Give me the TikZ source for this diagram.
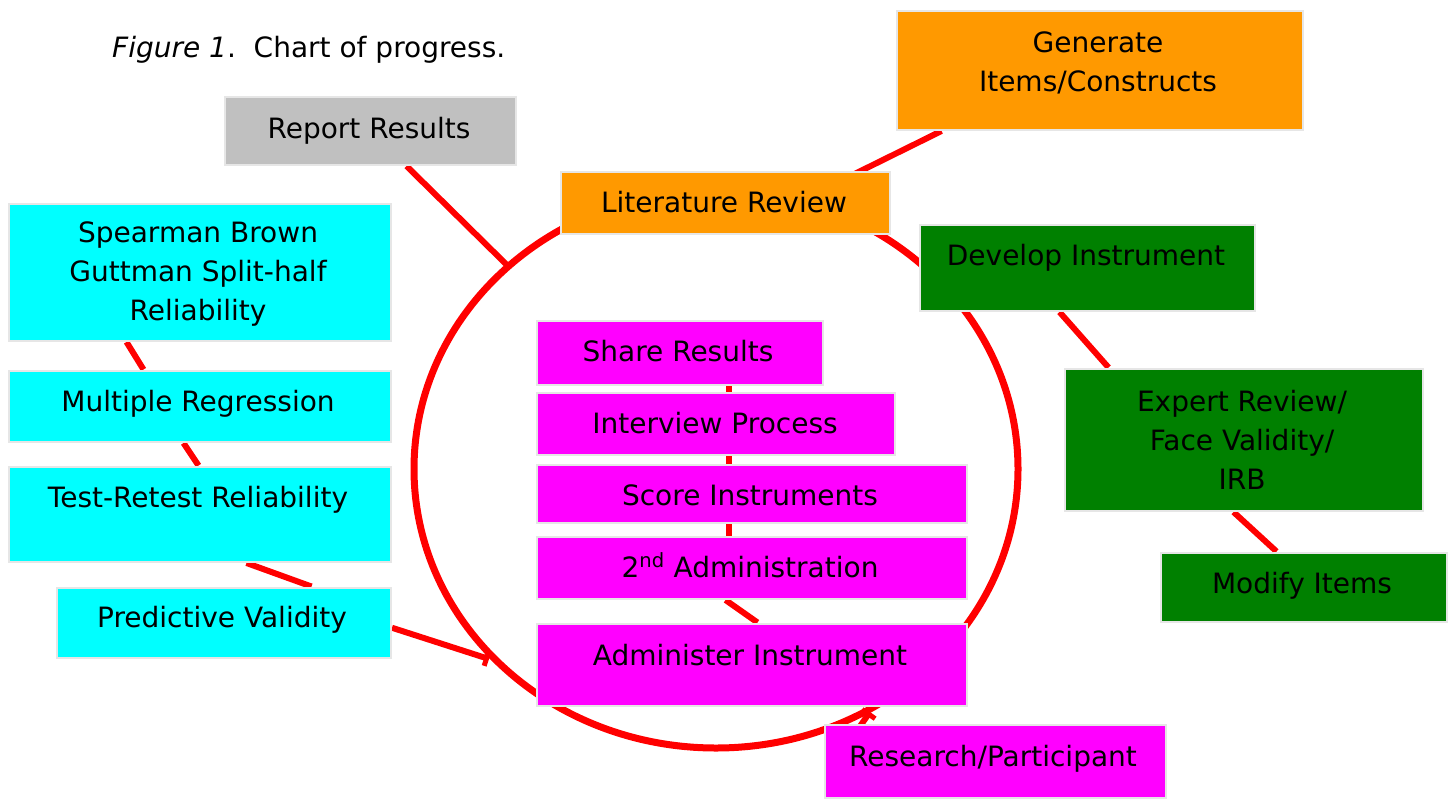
\documentclass[tikz,border=0pt]{standalone}
\usepackage{fontspec}
\setmainfont{DejaVu Sans}
\usetikzlibrary{arrows.meta,calc}
\definecolor{cOrange}{HTML}{FF9900}
\definecolor{cGreen}{HTML}{008000}
\definecolor{cCyan}{HTML}{00FFFF}
\definecolor{cMag}{HTML}{FF00FF}
\definecolor{cGray}{HTML}{C0C0C0}
\definecolor{cRed}{HTML}{FF0000}
\definecolor{cBorder}{HTML}{E6E6E6}
\newcommand{\bx}[6]{\node[box,fill=#2,minimum width={#5-#3-3},minimum height={#6-#4-3},anchor=north west] (#1) at (#3+1.5,#4+1.5) {};}
\begin{document}
\begin{tikzpicture}[x=1pt,y=-1pt,
  box/.style={draw=cBorder,line width=2.5pt,inner sep=0pt,rectangle},
  txt/.style={font=\fontsize{28}{39}\selectfont,inner sep=0pt,align=center},
  conn/.style={draw=cRed,line width=6pt},
  tick/.style={conn,-{Bar[width=16pt,line width=5pt]}},
  ring/.style={draw=cRed,line width=7pt}]
\useasboundingbox (0,0) rectangle (1450,798);
% ring and connection points
\draw[ring] (716,469) ellipse [x radius=302pt, y radius=279pt];
\coordinate (cTL) at (510,268);
\coordinate (cBL) at (489,659);
\coordinate (cBR) at (870,712);
% boxes
\bx{report}{cGray}{222}{94}{516}{165}
\bx{generate}{cOrange}{894}{8}{1303}{130}
\bx{lit}{cOrange}{558}{169}{890}{234}
\bx{develop}{cGreen}{917}{222}{1255}{311}
\bx{expert}{cGreen}{1062}{366}{1423}{511}
\bx{modify}{cGreen}{1158}{550}{1447}{622}
\bx{spear}{cCyan}{6}{201}{391}{341}
\bx{multreg}{cCyan}{6}{368}{391}{442}
\bx{retest}{cCyan}{6}{464}{391}{562}
\bx{predict}{cCyan}{54}{585}{391}{658}
\bx{share}{cMag}{534}{318}{823}{385}
\bx{interview}{cMag}{534}{390}{895}{455}
\bx{score}{cMag}{534}{462}{967}{523}
\bx{second}{cMag}{534}{534}{967}{599}
\bx{admin}{cMag}{534}{621}{967}{706}
\bx{research}{cMag}{822}{722}{1166}{798}
% connectors (behind boxes)
\pgfdeclarelayer{bg}\pgfsetlayers{bg,main}
\begin{pgfonlayer}{bg}
\draw[tick] ([xshift=183pt]report.south west) -- (cTL);
\draw[conn] ([xshift=46pt]generate.south west) -- ([xshift=292pt,yshift=-5pt]lit.north west);
\draw[conn] ([xshift=141pt]develop.south west) -- ([xshift=45pt]expert.north west);
\draw[conn] ([xshift=170pt]expert.south west) -- ([xshift=117pt]modify.north west);
\draw[conn] ([xshift=119pt]spear.south west) -- ([xshift=136pt]multreg.north west);
\draw[conn] ([xshift=176pt]multreg.south west) -- ([xshift=191pt]retest.north west);
\draw[conn] ([xshift=239pt]retest.south west) -- ([xshift=256pt]predict.north west);
\draw[tick] ([yshift=-5pt]predict.east) -- (cBL);
\draw[conn] ([xshift=193pt]share.south west) -- ([xshift=193pt]interview.north west);
\draw[conn] ([xshift=193pt]interview.south west) -- ([xshift=193pt]score.north west);
\draw[conn] ([xshift=193pt]score.south west) -- ([xshift=193pt]second.north west);
\draw[conn] ([xshift=190pt]second.south west) -- ([xshift=222pt]admin.north west);
\draw[tick] ([xshift=30pt,yshift=-12pt]research.north west) -- (cBR);
\end{pgfonlayer}
% texts
\node[txt,anchor=base west] (cap) at (112,57) {\textit{Figure 1}.\ \ Chart of progress.};
\node[txt,anchor=base] (reportT) at (369,138) {Report Results};
\node[txt] (generateT) at (1098,63) {Generate\\Items/Constructs};
\node[txt,anchor=base] (litT) at (724,212) {Literature Review};
\node[txt,anchor=base] (developT) at (1086,265) {Develop Instrument};
\node[txt] (expertT) at (1242,440) {Expert Review/\\Face Validity/\\IRB};
\node[txt,anchor=base] (modifyT) at (1302,593) {Modify Items};
\node[txt] (spearT) at (198,274) {Spearman Brown\\Guttman Split-half\\Reliability};
\node[txt,anchor=base] (multregT) at (198,411) {Multiple Regression};
\node[txt,anchor=base] (retestT) at (198,507) {Test-Retest Reliability};
\node[txt,anchor=base] (predictT) at (222,627) {Predictive Validity};
\node[txt,anchor=base] (shareT) at (678,361) {Share Results};
\node[txt,anchor=base] (interviewT) at (715,433) {Interview Process};
\node[txt,anchor=base] (scoreT) at (750,505) {Score Instruments};
\node[txt,anchor=base] (secondT) at (750,577) {2\textsuperscript{nd} Administration};
\node[txt,anchor=base] (adminT) at (750,665) {Administer Instrument};
\node[txt,anchor=base] (researchT) at (993,766) {Research/Participant};
\end{tikzpicture}
\end{document}
